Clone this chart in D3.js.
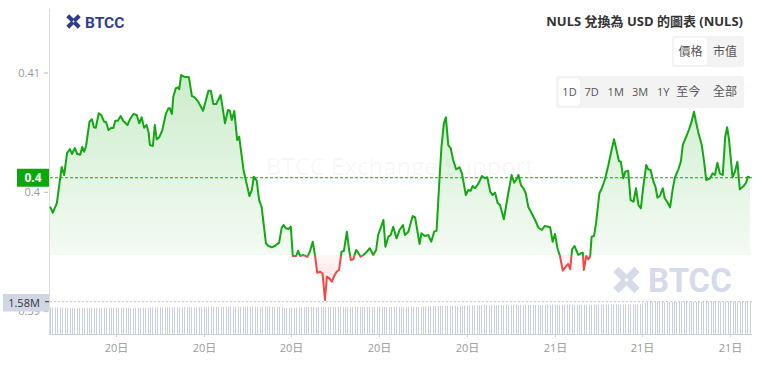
<!DOCTYPE html>
<html><head><meta charset="utf-8">
<script src="https://cdn.jsdelivr.net/npm/d3@7"></script>
<style>
html,body{margin:0;padding:0;background:#fff;}
svg{display:block;font-family:"Open Sans","Noto Sans CJK TC",sans-serif;}
</style></head><body>
<svg id="chart" width="768" height="367"></svg>
<script>
// ---- data ----
// minutes after the window start (06:45 on the 20th)
const minutes = [
0,6,14,24,29,35,41,45,51,56,
62,66,70,74,81,86,90,94,100,105,
111,115,120,126,130,134,139,145,150,159,
164,171,178,183,188,193,198,202,205,211,
215,219,224,230,238,243,246,250,253,258,
263,265,269,275,285,291,297,304,314,325,
330,335,341,350,359,365,369,373,378,384,
388,397,404,409,414,418,424,429,434,443,
448,455,462,470,475,479,484,489,494,498,
505,509,513,520,528,533,539,544,548,554,
559,564,568,573,578,583,588,593,598,603,
609,613,617,622,628,632,637,643,650,656,
663,669,673,678,684,688,694,699,704,711,
717,724,728,735,744,749,758,762,769,776,
782,788,793,799,803,808,812,817,822,827,
833,840,845,853,858,863,867,872,879,886,
892,897,903,908,913,918,923,931,940,947,
952,957,961,966,971,976,981,988,995,1002,
1009,1015,1026,1031,1036,1041,1046,1052,1058,1063,
1067,1071,1076,1080,1084,1089,1093,1095,1100,1104,
1108,1111,1116,1120,1127,1132,1138,1145,1152,1157,
1162,1167,1171,1176,1180,1186,1191,1197,1202,1207,
1212,1217,1223,1227,1232,1238,1242,1246,1251,1257,
1261,1266,1272,1277,1282,1289,1294,1298,1305,1311,
1316,1321,1325,1330,1337,1342,1346,1354,1359,1364,
1369,1374,1380,1385,1389,1393,1400,1405,1410,1415,
1423,1428,1431,1436];
const prices = [
0.39879,0.39829,0.39910,0.40212,0.40145,0.40329,0.40363,0.40321,0.40371,0.40321,
0.40315,0.40380,0.40340,0.40388,0.40592,0.40612,0.40545,0.40541,0.40662,0.40648,
0.40592,0.40589,0.40522,0.40541,0.40539,0.40600,0.40600,0.40640,0.40600,0.40564,
0.40612,0.40656,0.40648,0.40578,0.40629,0.40541,0.40564,0.40508,0.40396,0.40388,
0.40564,0.40444,0.40461,0.40516,0.40662,0.40704,0.40704,0.40656,0.40801,0.40872,
0.40880,0.40863,0.40983,0.40969,0.40964,0.40807,0.40796,0.40759,0.40684,0.40852,
0.40852,0.40740,0.40740,0.40816,0.40578,0.40690,0.40684,0.40606,0.40681,0.40438,
0.40466,0.40187,0.40061,0.39969,0.40019,0.40131,0.40097,0.39935,0.39879,0.39572,
0.39550,0.39539,0.39552,0.39578,0.39698,0.39726,0.39698,0.39692,0.39712,0.39466,
0.39466,0.39510,0.39466,0.39474,0.39460,0.39502,0.39586,0.39460,0.39326,0.39334,
0.39321,0.39097,0.39293,0.39279,0.39251,0.39298,0.39334,0.39349,0.39502,0.39510,
0.39670,0.39531,0.39433,0.39438,0.39516,0.39494,0.39460,0.39474,0.39502,0.39531,
0.39474,0.39516,0.39642,0.39698,0.39768,0.39544,0.39628,0.39642,0.39712,0.39614,
0.39684,0.39726,0.39642,0.39670,0.39801,0.39790,0.39567,0.39656,0.39634,0.39642,
0.39586,0.39670,0.39678,0.40117,0.40382,0.40578,0.40629,0.40396,0.40369,0.40271,
0.40193,0.40210,0.40159,0.39977,0.40019,0.40013,0.40053,0.40034,0.40075,0.40137,
0.40117,0.40126,0.40005,0.39977,0.39997,0.39913,0.39894,0.39774,0.39992,0.40145,
0.40080,0.40109,0.40145,0.40061,0.40034,0.39992,0.39879,0.39824,0.39768,0.39703,
0.39684,0.39718,0.39707,0.39586,0.39650,0.39531,0.39466,0.39343,0.39376,0.39399,
0.39355,0.39522,0.39550,0.39510,0.39474,0.39489,0.39494,0.39349,0.39466,0.39438,
0.39460,0.39628,0.39634,0.39740,0.39992,0.40034,0.40103,0.40220,0.40355,0.40444,
0.40355,0.40262,0.40256,0.40117,0.40173,0.40181,0.39935,0.39921,0.40034,0.39894,
0.39866,0.40047,0.40229,0.40193,0.40187,0.40089,0.40047,0.39955,0.39969,0.40034,
0.39950,0.39921,0.39874,0.40019,0.40126,0.40193,0.40256,0.40396,0.40466,0.40528,
0.40592,0.40676,0.40592,0.40500,0.40396,0.40248,0.40103,0.40117,0.40159,0.40145,
0.40248,0.40159,0.40145,0.40466,0.40545,0.40438,0.40126,0.40173,0.40256,0.40025,
0.40053,0.40080,0.40131,0.40122];
// volume in millions, one bar per 5 minutes
const volumes = [
1.30,1.30,1.29,1.30,1.30,1.29,1.29,1.27,1.27,1.28,1.27,1.27,1.28,1.27,1.27,1.26,1.27,1.27,1.28,1.27,1.27,1.28,1.28,1.28,
1.29,1.28,1.28,1.29,1.28,1.28,1.29,1.28,1.29,1.29,1.28,1.29,1.28,1.28,1.29,1.29,1.28,1.31,1.31,1.30,1.31,1.31,1.31,1.30,
1.31,1.31,1.31,1.32,1.31,1.31,1.30,1.31,1.31,1.32,1.31,1.31,1.31,1.31,1.33,1.33,1.32,1.33,1.33,1.33,1.32,1.33,1.33,1.33,
1.33,1.33,1.34,1.33,1.33,1.33,1.32,1.33,1.33,1.34,1.33,1.33,1.33,1.33,1.32,1.33,1.33,1.33,1.34,1.33,1.33,1.33,1.32,1.33,
1.27,1.27,1.28,1.28,1.29,1.30,1.31,1.32,1.31,1.32,1.32,1.32,1.32,1.31,1.32,1.32,1.32,1.32,1.31,1.32,1.32,1.32,1.32,1.32,
1.32,1.32,1.32,1.33,1.32,1.32,1.32,1.32,1.33,1.32,1.32,1.32,1.32,1.32,1.32,1.33,1.32,1.32,1.32,1.32,1.32,1.33,1.32,1.32,
1.32,1.32,1.33,1.32,1.33,1.33,1.32,1.33,1.33,1.35,1.36,1.36,1.37,1.37,1.37,1.37,1.38,1.38,1.37,1.38,1.38,1.38,1.38,1.38,
1.38,1.39,1.39,1.39,1.40,1.40,1.40,1.40,1.41,1.40,1.41,1.41,1.41,1.41,1.41,1.41,1.42,1.41,1.41,1.42,1.42,1.41,1.42,1.42,
1.42,1.42,1.42,1.42,1.42,1.43,1.42,1.42,1.43,1.42,1.42,1.43,1.43,1.42,1.43,1.43,1.43,1.43,1.43,1.43,1.43,1.44,1.43,1.43,
1.43,1.44,1.43,1.43,1.44,1.44,1.43,1.44,1.44,1.44,1.44,1.44,1.44,1.44,1.44,1.44,1.45,1.44,1.44,1.44,1.45,1.44,1.45,1.45,
1.45,1.45,1.45,1.50,1.53,1.56,1.57,1.57,1.56,1.57,1.57,1.57,1.57,1.56,1.57,1.57,1.57,1.57,1.57,1.57,1.58,1.57,1.57,1.57,
1.57,1.57,1.58,1.57,1.57,1.58,1.58,1.57,1.58,1.58,1.58,1.58,1.57,1.58,1.58,1.58,1.58,1.58,1.58,1.58,1.58,1.58,1.58,1.58];
const priceTicks = [0.39, 0.40, 0.41];
const baselinePrice = 0.39474;
const volumeMax = 1.58;
const volumeLabel = "1.58M";
const titleText = "NULS 兌換為 USD 的圖表 (NULS)";
const metricButtons = ["價格", "市值"];
const rangeButtons = ["1D", "7D", "1M", "3M", "1Y", "至今", "全部"];

// ---- drawing ----
const W = 768, H = 367;
const L = 50, R = 752, T = 9, B = 334;
const GREEN = "#12a812", RED = "#f24848";
const svg = d3.select("#chart");
const start = new Date(2024, 0, 20, 6, 45);
const times = minutes.map(m => new Date(+start + m * 60000));
const data = prices.map((p, i) => ({ t: times[i], p }));
const x = d3.scaleTime().domain([start, new Date(+start + 1440 * 60000)]).range([L, R]);
const y = d3.scaleLinear().domain([0.39, 0.41]).range([311.6, 73]);
const yv = d3.scaleLinear().domain([0, volumeMax]).range([B, 301.7]);
const yb = y(baselinePrice);
const last = prices[prices.length - 1];

const defs = svg.append("defs");
const gG = defs.append("linearGradient").attr("id", "gGreen").attr("gradientUnits", "userSpaceOnUse")
  .attr("x1", 0).attr("y1", 73).attr("x2", 0).attr("y2", yb);
gG.append("stop").attr("offset", 0).attr("stop-color", "rgb(24,170,24)").attr("stop-opacity", 0.22);
gG.append("stop").attr("offset", 1).attr("stop-color", "rgb(24,170,24)").attr("stop-opacity", 0.05);
const gR = defs.append("linearGradient").attr("id", "gRed").attr("gradientUnits", "userSpaceOnUse")
  .attr("x1", 0).attr("y1", yb).attr("x2", 0).attr("y2", 300);
gR.append("stop").attr("offset", 0).attr("stop-color", "rgb(245,80,80)").attr("stop-opacity", 0.05);
gR.append("stop").attr("offset", 1).attr("stop-color", "rgb(245,80,80)").attr("stop-opacity", 0.2);
defs.append("clipPath").attr("id", "cAbove").append("rect").attr("x", 0).attr("y", 0).attr("width", W).attr("height", yb);
defs.append("clipPath").attr("id", "cBelow").append("rect").attr("x", 0).attr("y", yb).attr("width", W).attr("height", H - yb);

// faint watermark text
svg.append("text").attr("x", 400).attr("y", 175).attr("text-anchor", "middle")
  .attr("font-size", 24).attr("fill", "rgba(0,0,0,0.045)").text("BTCC Exchange Support");

function drawIcon(g, cx, cy, s, color) {
  const h = s / 2;
  g.append("path").attr("d", `M${cx - h},${cy - h}L${cx + h},${cy + h}M${cx + h},${cy - h}L${cx - h},${cy + h}`)
    .attr("stroke", color).attr("stroke-width", s * 0.36).attr("fill", "none");
  g.append("rect").attr("x", cx - s * 0.07).attr("y", cy - s * 0.07).attr("width", s * 0.14).attr("height", s * 0.14)
    .attr("transform", `rotate(45 ${cx} ${cy})`).attr("fill", "#fff");
}
// big watermark logo
const wm = svg.append("g");
drawIcon(wm, 626.5, 280, 21, "#d6dae9");
wm.append("text").attr("x", 648).attr("y", 292).attr("font-size", 33).attr("font-weight", "bold")
  .attr("font-family", "Roboto, 'Open Sans', sans-serif").attr("fill", "#d6dae9").text("BTCC");

// areas
const area = d3.area().x(d => x(d.t)).y0(yb).y1(d => y(d.p));
svg.append("path").datum(data).attr("d", area).attr("fill", "url(#gGreen)").attr("clip-path", "url(#cAbove)");
svg.append("path").datum(data).attr("d", area).attr("fill", "url(#gRed)").attr("clip-path", "url(#cBelow)");

// volume bars
const vg = svg.append("g");
volumes.forEach((v, i) => {
  const xx = Math.round(x(new Date(+start + i * 5 * 60000))) + 0.5;
  vg.append("line").attr("x1", xx).attr("x2", xx).attr("y1", yv(v)).attr("y2", B)
    .attr("stroke", "#c9cfe0").attr("stroke-width", 1);
});
svg.append("line").attr("x1", L).attr("x2", R).attr("y1", yv(volumeMax)).attr("y2", yv(volumeMax))
  .attr("stroke", "#c4c4c4").attr("stroke-dasharray", "2,2");

// axes
svg.append("line").attr("x1", L - 0.5).attr("x2", L - 0.5).attr("y1", T).attr("y2", B)
  .attr("stroke", "#dedede");
svg.append("line").attr("x1", L - 1).attr("x2", R).attr("y1", B + 0.5).attr("y2", B + 0.5)
  .attr("stroke", "#ccd1df");
const fmtT = d3.timeFormat("%-d日");
x.ticks(d3.timeHour.every(3)).forEach(t => {
  const xx = Math.round(x(t)) + 0.5;
  svg.append("line").attr("x1", xx).attr("x2", xx).attr("y1", B).attr("y2", B + 3).attr("stroke", "#ccd1df");
  svg.append("text").attr("x", xx).attr("y", B + 18).attr("text-anchor", "middle")
    .attr("font-size", 11).attr("fill", "#9a9a9a").text(fmtT(t));
});
const fmtP = d3.format(".2~f");
priceTicks.forEach(v => {
  svg.append("line").attr("x1", 44).attr("x2", 48).attr("y1", y(v)).attr("y2", y(v)).attr("stroke", "#bbb");
  svg.append("text").attr("x", 40).attr("y", y(v)).attr("dy", "0.35em").attr("text-anchor", "end")
    .attr("font-size", 11).attr("fill", "#9a9a9a").text(fmtP(v));
});

// price line
const line = d3.line().x(d => x(d.t)).y(d => y(d.p));
svg.append("path").datum(data).attr("d", line).attr("fill", "none").attr("stroke", GREEN)
  .attr("stroke-width", 2).attr("stroke-linejoin", "round").attr("clip-path", "url(#cAbove)");
svg.append("path").datum(data).attr("d", line).attr("fill", "none").attr("stroke", RED)
  .attr("stroke-width", 2).attr("stroke-linejoin", "round").attr("clip-path", "url(#cBelow)");

// current price line + label
svg.append("line").attr("x1", L).attr("x2", R).attr("y1", y(last)).attr("y2", y(last))
  .attr("stroke", GREEN).attr("stroke-dasharray", "3,2");
svg.append("rect").attr("x", 17).attr("y", y(last) - 9).attr("width", 32).attr("height", 18).attr("fill", "#0ba80b");
svg.append("text").attr("x", 33).attr("y", y(last)).attr("dy", "0.36em").attr("text-anchor", "middle")
  .attr("font-size", 12).attr("font-weight", "bold").attr("fill", "#fff").text(fmtP(last));

// volume label
svg.append("rect").attr("x", 3).attr("y", 294).attr("width", 46).attr("height", 17.5).attr("fill", "#d1d6e5");
svg.append("line").attr("x1", 45).attr("x2", 49).attr("y1", yv(volumeMax)).attr("y2", yv(volumeMax)).attr("stroke", "#333");
svg.append("text").attr("x", 24).attr("y", 303).attr("dy", "0.35em").attr("text-anchor", "middle")
  .attr("font-size", 11).attr("fill", "#333").text(volumeLabel);

// top-left logo
drawIcon(svg.append("g"), 73.5, 21.5, 11.5, "#2e3d8f");
svg.append("text").attr("x", 85).attr("y", 27.5).attr("font-size", 15.5).attr("font-weight", "bold")
  .attr("font-family", "Roboto, 'Open Sans', sans-serif").attr("fill", "#2e3d8f").text("BTCC");

// title
svg.append("text").attr("x", 743).attr("y", 21).attr("dy", "0.35em").attr("text-anchor", "end")
  .attr("font-size", 13).attr("font-weight", "bold").attr("fill", "#333").text(titleText);

// metric buttons
svg.append("rect").attr("x", 672).attr("y", 36).attr("width", 72).attr("height", 31).attr("rx", 3).attr("fill", "#f3f3f3");
svg.append("rect").attr("x", 674).attr("y", 38).attr("width", 33).attr("height", 27).attr("rx", 3).attr("fill", "#fff");
[690.5, 725].forEach((cx, i) => {
  svg.append("text").attr("x", cx).attr("y", 52).attr("dy", "0.35em").attr("text-anchor", "middle")
    .attr("font-size", 12).attr("fill", "#555").text(metricButtons[i]);
});
// range buttons
svg.append("rect").attr("x", 556).attr("y", 76).attr("width", 188).attr("height", 32).attr("rx", 3).attr("fill", "#f3f3f3");
svg.append("rect").attr("x", 559).attr("y", 78.5).attr("width", 21).attr("height", 27).attr("rx", 3).attr("fill", "#fff");
[569.5, 591.7, 615.7, 640, 663.3, 688.3, 725].forEach((cx, i) => {
  const t = rangeButtons[i];
  svg.append("text").attr("x", cx).attr("y", 92).attr("dy", "0.35em").attr("text-anchor", "middle")
    .attr("font-size", /[A-Z0-9]/.test(t) ? 11 : 12).attr("fill", "#555").text(t);
});
</script>
</body></html>
